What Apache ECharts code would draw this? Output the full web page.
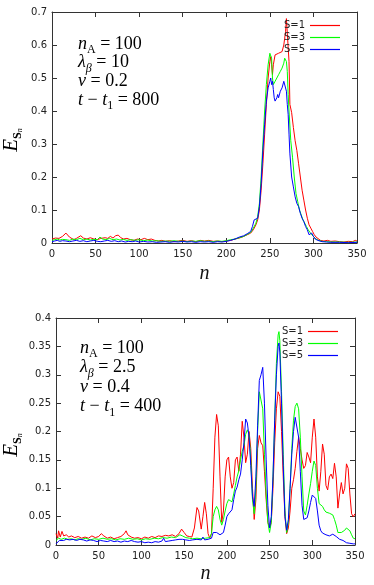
<!DOCTYPE html>
<html>
<head>
<meta charset="utf-8">
<script src="https://cdn.jsdelivr.net/npm/echarts@6/dist/echarts.min.js"></script>
<style>
  html, body { margin: 0; padding: 0; background: #fff; }
  #chart { width: 374px; height: 585px; }
</style>
</head>
<body>
<div id="chart"></div>
<script>
// series names (legend)
const names = ['S=1', 'S=3', 'S=5'];
const colors = ['#ff0000', '#00ff00', '#0000ff'];

// top panel: n_A=100, lambda=10, v=0.2, t-t1=800  -> [n, E]
const topS1 = [[0,0.012],[2,0.018],[4,0.015],[6,0.017],[8,0.014],[10,0.016],[12,0.02],[14,0.026],[16,0.03],[18,0.024],[20,0.018],[22,0.012],[25,0.01],[28,0.014],[30,0.02],[33,0.022],[36,0.015],[40,0.012],[44,0.016],[48,0.012],[52,0.01],[56,0.014],[58,0.02],[61,0.016],[64,0.014],[67,0.02],[70,0.015],[73,0.022],[76,0.024],[79,0.016],[82,0.012],[86,0.014],[90,0.01],[94,0.008],[98,0.012],[102,0.01],[106,0.014],[110,0.01],[114,0.012],[118,0.008],[122,0.006],[126,0.008],[130,0.005],[135,0.007],[140,0.004],[145,0.006],[150,0.008],[155,0.005],[160,0.007],[165,0.004],[170,0.008],[175,0.006],[180,0.008],[185,0.005],[190,0.006],[195,0.004],[200,0.006],[205,0.008],[210,0.012],[215,0.015],[220,0.02],[224,0.025],[228,0.03],[231,0.04],[234,0.055],[236,0.07],[238,0.1],[240,0.16],[242,0.24],[244,0.33],[246,0.42],[248,0.5],[250,0.55],[251,0.565],[252,0.54],[253,0.51],[254,0.54],[256,0.57],[258,0.575],[260,0.575],[262,0.58],[264,0.58],[266,0.6],[267,0.62],[268,0.64],[269,0.68],[270,0.68],[271,0.675],[272,0.55],[273,0.42],[275,0.395],[277,0.35],[279,0.31],[281,0.28],[283,0.24],[285,0.2],[287,0.16],[289,0.13],[291,0.1],[293,0.075],[295,0.055],[297,0.045],[299,0.035],[301,0.025],[303,0.018],[305,0.012],[308,0.008],[312,0.006],[316,0.008],[320,0.005],[325,0.006],[330,0.004],[335,0.003],[340,0.005],[345,0.004],[348,0.008],[350,0.006]];
const topS3 = [[0,0.008],[3,0.01],[6,0.012],[9,0.009],[12,0.011],[16,0.01],[20,0.008],[24,0.012],[28,0.01],[32,0.014],[36,0.01],[40,0.012],[44,0.009],[48,0.011],[52,0.01],[55,0.018],[58,0.012],[62,0.01],[66,0.014],[70,0.01],[74,0.012],[78,0.009],[82,0.011],[86,0.008],[90,0.01],[95,0.008],[100,0.01],[105,0.007],[110,0.009],[115,0.006],[120,0.007],[125,0.005],[130,0.006],[135,0.005],[140,0.007],[145,0.005],[150,0.006],[155,0.004],[160,0.006],[165,0.005],[170,0.007],[175,0.005],[180,0.006],[185,0.004],[190,0.006],[195,0.005],[200,0.007],[205,0.01],[210,0.012],[215,0.016],[220,0.02],[224,0.026],[228,0.032],[231,0.045],[234,0.06],[236,0.08],[238,0.12],[240,0.2],[242,0.3],[244,0.4],[246,0.48],[248,0.54],[250,0.575],[251,0.58],[252,0.56],[253,0.5],[254,0.48],[256,0.49],[258,0.5],[260,0.51],[262,0.52],[264,0.53],[266,0.545],[267,0.56],[268,0.565],[269,0.55],[270,0.52],[271,0.45],[272,0.4],[274,0.31],[276,0.26],[278,0.2],[280,0.15],[282,0.125],[284,0.1],[286,0.085],[288,0.07],[290,0.065],[292,0.05],[294,0.04],[296,0.035],[298,0.025],[300,0.02],[303,0.012],[306,0.008],[310,0.005],[315,0.004],[320,0.003],[330,0.003],[340,0.002],[350,0.003]];
const topS5 = [[0,0.004],[3,0.006],[6,0.008],[9,0.005],[12,0.007],[16,0.006],[20,0.004],[24,0.006],[28,0.008],[32,0.005],[36,0.007],[40,0.004],[44,0.006],[48,0.008],[52,0.005],[56,0.004],[60,0.006],[64,0.008],[68,0.005],[72,0.007],[76,0.004],[80,0.006],[84,0.003],[88,0.005],[92,0.004],[96,0.006],[100,0.003],[105,0.005],[110,0.003],[115,0.004],[120,0.002],[125,0.003],[130,0.004],[135,0.002],[140,0.004],[145,0.003],[150,0.005],[155,0.003],[160,0.004],[165,0.002],[170,0.004],[175,0.003],[180,0.004],[185,0.002],[190,0.004],[195,0.003],[200,0.005],[205,0.008],[210,0.012],[215,0.018],[220,0.022],[224,0.028],[228,0.035],[230,0.05],[232,0.07],[234,0.068],[236,0.075],[238,0.11],[240,0.18],[242,0.28],[244,0.36],[246,0.43],[248,0.47],[250,0.49],[251,0.5],[252,0.48],[253,0.49],[254,0.465],[255,0.44],[256,0.43],[258,0.44],[259,0.45],[260,0.44],[261,0.445],[262,0.46],[264,0.47],[266,0.49],[267,0.495],[268,0.485],[269,0.46],[270,0.42],[271,0.39],[272,0.33],[273,0.27],[275,0.2],[277,0.17],[279,0.14],[281,0.12],[283,0.11],[285,0.09],[287,0.075],[289,0.065],[291,0.05],[293,0.04],[295,0.025],[296,0.02],[298,0.03],[300,0.02],[302,0.012],[305,0.008],[310,0.004],[315,0.003],[320,0.002],[330,0.002],[340,0.001],[350,0.002]];

// bottom panel: n_A=100, lambda=2.5, v=0.4, t-t1=400
const botS1 = [[0,0.02],[2,0.012],[3,0.025],[5,0.014],[7,0.024],[9,0.016],[12,0.018],[15,0.014],[18,0.016],[22,0.013],[26,0.015],[30,0.012],[34,0.014],[38,0.012],[42,0.016],[46,0.013],[50,0.015],[53,0.02],[56,0.016],[60,0.012],[64,0.014],[68,0.011],[72,0.013],[76,0.015],[80,0.02],[82,0.025],[84,0.018],[88,0.014],[92,0.012],[96,0.013],[100,0.011],[104,0.014],[108,0.012],[112,0.015],[116,0.013],[120,0.016],[124,0.015],[128,0.017],[132,0.016],[136,0.018],[140,0.015],[144,0.02],[147,0.028],[150,0.022],[153,0.016],[156,0.015],[159,0.014],[162,0.03],[165,0.066],[167,0.06],[170,0.028],[172,0.05],[174,0.075],[176,0.055],[178,0.02],[180,0.012],[182,0.02],[184,0.1],[186,0.19],[188,0.23],[190,0.21],[192,0.12],[194,0.04],[196,0.06],[198,0.12],[200,0.15],[202,0.155],[204,0.12],[206,0.1],[208,0.11],[210,0.15],[212,0.155],[214,0.13],[216,0.16],[218,0.218],[220,0.19],[222,0.145],[224,0.16],[226,0.2],[228,0.17],[230,0.1],[232,0.045],[234,0.08],[236,0.17],[238,0.193],[240,0.18],[242,0.175],[244,0.13],[246,0.08],[248,0.04],[250,0.03],[252,0.04],[254,0.1],[256,0.18],[258,0.24],[260,0.27],[262,0.262],[264,0.2],[266,0.12],[268,0.05],[270,0.02],[272,0.03],[274,0.06],[276,0.1],[278,0.115],[280,0.135],[282,0.165],[284,0.19],[286,0.17],[288,0.15],[290,0.135],[292,0.14],[294,0.163],[296,0.155],[298,0.145],[300,0.19],[302,0.222],[304,0.19],[306,0.12],[308,0.095],[310,0.13],[312,0.178],[314,0.16],[316,0.105],[318,0.097],[320,0.12],[322,0.125],[324,0.117],[326,0.144],[328,0.12],[330,0.065],[332,0.09],[334,0.11],[336,0.09],[338,0.1],[340,0.143],[342,0.135],[344,0.09],[346,0.055],[348,0.05],[350,0.055]];
const botS3 = [[0,0.008],[3,0.012],[6,0.01],[10,0.012],[14,0.01],[18,0.011],[22,0.009],[26,0.011],[30,0.01],[35,0.012],[40,0.009],[45,0.011],[50,0.01],[55,0.012],[60,0.01],[65,0.011],[70,0.009],[75,0.011],[80,0.01],[85,0.012],[90,0.01],[95,0.011],[100,0.009],[105,0.011],[110,0.01],[115,0.012],[120,0.011],[125,0.013],[130,0.012],[135,0.014],[140,0.013],[145,0.018],[148,0.016],[152,0.013],[156,0.012],[160,0.011],[165,0.012],[170,0.011],[175,0.012],[180,0.013],[182,0.02],[184,0.05],[186,0.062],[188,0.068],[190,0.062],[192,0.045],[194,0.035],[196,0.045],[198,0.06],[200,0.073],[202,0.08],[204,0.082],[206,0.076],[208,0.09],[210,0.105],[212,0.12],[214,0.131],[216,0.15],[218,0.165],[220,0.175],[222,0.195],[224,0.203],[226,0.195],[228,0.15],[230,0.08],[232,0.055],[234,0.1],[236,0.2],[238,0.27],[240,0.27],[242,0.24],[244,0.16],[246,0.09],[248,0.04],[250,0.022],[252,0.04],[254,0.12],[256,0.22],[258,0.32],[260,0.37],[261,0.376],[262,0.36],[264,0.27],[266,0.16],[268,0.06],[270,0.022],[272,0.04],[274,0.1],[276,0.17],[278,0.22],[280,0.244],[282,0.25],[284,0.24],[286,0.19],[288,0.12],[290,0.06],[292,0.053],[294,0.07],[296,0.09],[298,0.108],[300,0.13],[302,0.148],[304,0.14],[306,0.1],[308,0.073],[310,0.07],[312,0.068],[314,0.062],[316,0.058],[318,0.056],[320,0.056],[322,0.055],[324,0.053],[326,0.045],[328,0.035],[330,0.022],[332,0.02],[334,0.022],[336,0.022],[338,0.026],[340,0.03],[342,0.03],[344,0.025],[346,0.018],[348,0.012],[350,0.011]];
const botS5 = [[0,0.002],[2,0.004],[4,0.008],[6,0.01],[9,0.008],[12,0.01],[16,0.009],[20,0.01],[24,0.008],[28,0.01],[32,0.009],[36,0.007],[40,0.009],[44,0.008],[48,0.006],[52,0.008],[56,0.007],[60,0.006],[64,0.008],[68,0.006],[72,0.007],[76,0.005],[80,0.007],[84,0.006],[88,0.008],[92,0.006],[96,0.005],[100,0.006],[104,0.004],[108,0.005],[112,0.004],[116,0.006],[120,0.005],[124,0.007],[126,0.012],[128,0.006],[132,0.007],[136,0.008],[140,0.009],[144,0.01],[148,0.01],[152,0.009],[156,0.008],[160,0.009],[165,0.01],[170,0.009],[172,0.014],[174,0.009],[178,0.01],[182,0.012],[184,0.022],[186,0.02],[188,0.022],[190,0.02],[192,0.018],[194,0.016],[196,0.022],[198,0.035],[200,0.05],[202,0.055],[204,0.058],[206,0.062],[208,0.08],[210,0.095],[212,0.102],[214,0.115],[216,0.125],[218,0.15],[220,0.18],[222,0.222],[224,0.215],[226,0.19],[228,0.14],[230,0.085],[232,0.068],[234,0.12],[236,0.21],[238,0.29],[240,0.3],[242,0.313],[244,0.25],[246,0.15],[248,0.07],[250,0.03],[252,0.05],[254,0.12],[256,0.22],[258,0.3],[260,0.35],[261,0.356],[262,0.34],[264,0.25],[266,0.14],[268,0.05],[270,0.026],[272,0.045],[274,0.1],[276,0.16],[278,0.2],[280,0.225],[282,0.228],[284,0.19],[286,0.13],[288,0.07],[290,0.045],[292,0.042],[294,0.048],[296,0.06],[298,0.075],[300,0.088],[302,0.09],[304,0.082],[306,0.06],[308,0.035],[310,0.025],[312,0.021],[314,0.02],[316,0.018],[318,0.017],[320,0.016],[322,0.018],[324,0.019],[326,0.018],[328,0.015],[330,0.012],[332,0.01],[334,0.009],[336,0.008],[338,0.006],[340,0.004],[342,0.003],[344,0.003],[346,0.004],[348,0.002],[350,0.002]];

// parameter annotations for each panel
const topParams = [['n', 'A', ' = 100'], ['λ', 'β', ' = 10'], ['v', '', ' = 0.2'], ['t − t', '1', ' = 800']];
const botParams = [['n', 'A', ' = 100'], ['λ', 'β', ' = 2.5'], ['v', '', ' = 0.4'], ['t − t', '1', ' = 400']];

const chart = echarts.init(document.getElementById('chart'));

const serif = 'Liberation Serif';
const tickFont = { fontFamily: 'DejaVu Sans', fontSize: 10, color: '#222' };
const axisColor = '#333';

const mathRich = {
  i: { fontFamily: serif, fontStyle: 'italic', fontSize: 18, lineHeight: 24, verticalAlign: 'middle', color: '#111' },
  r: { fontFamily: serif, fontSize: 18, lineHeight: 24, verticalAlign: 'middle', color: '#111' },
  s: { fontFamily: serif, fontSize: 12, lineHeight: 12, verticalAlign: 'bottom', color: '#111' },
  si: { fontFamily: serif, fontStyle: 'italic', fontSize: 12, lineHeight: 12, verticalAlign: 'bottom', color: '#111' }
};

function paramText(p) {
  // p = [italic main, subscript, rest]
  let main = p[0].replace('t − t', '{i|t}{r| − }{i|t}');
  if (main === p[0]) main = '{i|' + p[0] + '}';
  let sub = '';
  if (p[1]) sub = (p[1] === 'β' ? '{si|' : '{s|') + p[1] + '}';
  return main + sub + '{r|' + p[2] + '}';
}

function paramGraphics(params, x, y0, step) {
  return params.map((p, k) => ({
    type: 'text', x: x, y: y0 + k * step,
    style: { text: paramText(p), rich: mathRich, verticalAlign: 'middle' }
  }));
}

function yName(x, y) {
  return {
    type: 'text', x: x, y: y, rotation: Math.PI / 2,
    style: {
      text: '{i|E}{b|S}{n|n}',
      align: 'center', verticalAlign: 'middle',
      rich: {
        i: { fontFamily: serif, fontStyle: 'italic', fontSize: 21, lineHeight: 26, verticalAlign: 'middle', color: '#111' },
        b: { fontFamily: serif, fontWeight: 'bold', fontSize: 12, lineHeight: 12, verticalAlign: 'bottom', color: '#111' },
        n: { fontFamily: serif, fontStyle: 'italic', fontSize: 8, lineHeight: 8, verticalAlign: 'bottom', color: '#111' }
      }
    }
  };
}

function mainX(gi, gap) {
  return {
    type: 'value', gridIndex: gi, min: 0, max: 350, interval: 50,
    name: 'n', nameLocation: 'middle', nameGap: gap,
    nameTextStyle: { fontFamily: serif, fontStyle: 'italic', fontSize: 20, color: '#111' },
    axisLine: { onZero: false, lineStyle: { color: axisColor } },
    axisTick: { inside: true, length: 5, lineStyle: { color: axisColor } },
    axisLabel: Object.assign({ margin: 6 }, tickFont),
    splitLine: { show: false }
  };
}
function mirrorX(gi) {
  return {
    type: 'value', gridIndex: gi, position: 'top', min: 0, max: 350, interval: 50,
    axisLine: { onZero: false, lineStyle: { color: axisColor } },
    axisTick: { inside: true, length: 5, lineStyle: { color: axisColor } },
    axisLabel: { show: false }, splitLine: { show: false }
  };
}
function mainY(gi, max, interval, fmt) {
  return {
    type: 'value', gridIndex: gi, min: 0, max: max, interval: interval,
    axisLine: { show: true, onZero: false, lineStyle: { color: axisColor } },
    axisTick: { show: true, inside: true, length: 5, lineStyle: { color: axisColor } },
    axisLabel: Object.assign({ margin: 5, formatter: fmt }, tickFont),
    splitLine: { show: false }
  };
}
function mirrorY(gi, max, interval) {
  return {
    type: 'value', gridIndex: gi, position: 'right', min: 0, max: max, interval: interval,
    axisLine: { show: true, onZero: false, lineStyle: { color: axisColor } },
    axisTick: { show: true, inside: true, length: 5, lineStyle: { color: axisColor } },
    axisLabel: { show: false }, splitLine: { show: false }
  };
}

const fmt = v => String(+v.toFixed(2));

const panels = [
  { data: [topS1, topS3, topS5], x: 0, y: 0 },
  { data: [botS1, botS3, botS5], x: 2, y: 2 }
];
const series = [];
panels.forEach(p => {
  p.data.forEach((d, k) => {
    series.push({
      type: 'line', name: names[k], data: d,
      xAxisIndex: p.x, yAxisIndex: p.y,
      showSymbol: false, symbol: 'none', silent: true, animation: false,
      lineStyle: { color: colors[k], width: 1 },
      itemStyle: { color: colors[k] }
    });
  });
});

function legendAt(top, right) {
  return {
    orient: 'vertical', top: top, right: right, align: 'right',
    itemWidth: 30, itemHeight: 1.2, itemGap: 1, icon: 'rect',
    data: names,
    textStyle: { fontFamily: 'DejaVu Sans', fontSize: 10, color: '#222', lineHeight: 11, padding: [0, 0, 0, 0] },
    selectedMode: false
  };
}

chart.setOption({
  backgroundColor: '#fff',
  animation: false,
  grid: [
    { left: 52, top: 12, width: 305, height: 231 },
    { left: 56, top: 318, width: 299, height: 231 }
  ],
  xAxis: [mainX(0, 21), mirrorX(0), mainX(1, 19), mirrorX(1)],
  yAxis: [mainY(0, 0.7, 0.1, fmt), mirrorY(0, 0.7, 0.1), mainY(1, 0.4, 0.05, fmt), mirrorY(1, 0.4, 0.05)],
  legend: [legendAt(15, 29), legendAt(321, 31)],
  graphic: [].concat(
    paramGraphics(topParams, 78, 44, 18.7),
    paramGraphics(botParams, 80, 348, 19.5),
    [yName(11, 140), yName(11, 445)]
  ),
  series: series
});
</script>
</body>
</html>
